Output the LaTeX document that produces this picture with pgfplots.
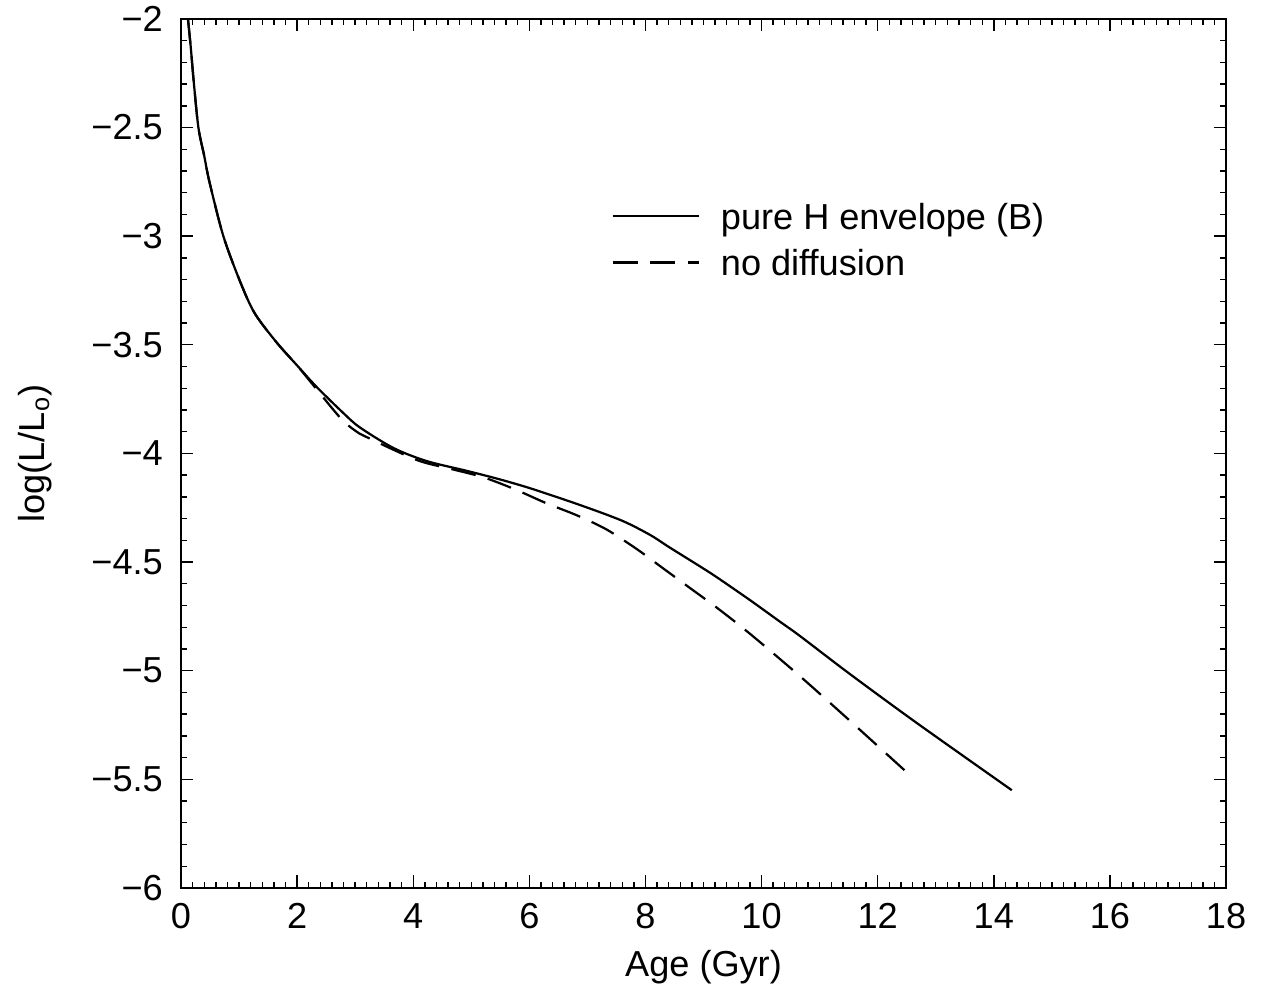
\documentclass[border=0pt]{standalone}
\usepackage{fontspec}
\setmainfont{Liberation Sans}
\usepackage{pgfplots}
\pgfplotsset{compat=1.18}

% Cooling tracks: luminosity against age
\pgfplotstableread{
age   logL
0.12  -2.00
0.17  -2.135
0.22  -2.29
0.30  -2.50
0.40  -2.63
0.49  -2.75
0.73  -3.00
1.02  -3.21
1.27  -3.355
1.65  -3.49
2.00  -3.595
2.34  -3.695
2.80  -3.815
3.08  -3.88
3.66  -3.975
4.23  -4.035
4.92  -4.08
5.50  -4.12
6.07  -4.165
6.90  -4.24
7.60  -4.31
8.08  -4.375
8.40  -4.43
8.94  -4.52
9.23  -4.57
9.80  -4.675
10.32 -4.775
10.66 -4.84
11.52 -5.015
12.67 -5.24
14.31 -5.55
}\pureH

\pgfplotstableread{
age   logL
0.12  -2.00
0.17  -2.135
0.22  -2.29
0.30  -2.50
0.40  -2.63
0.49  -2.75
0.73  -3.00
1.02  -3.21
1.27  -3.355
1.65  -3.49
2.00  -3.595
2.20  -3.66
2.74  -3.835
3.00  -3.895
3.20  -3.925
4.06  -4.03
4.63  -4.07
5.21  -4.11
5.75  -4.165
6.30  -4.23
6.82  -4.285
7.33  -4.35
7.85  -4.44
8.31  -4.53
8.77  -4.62
9.23  -4.71
9.80  -4.83
10.66 -5.025
11.52 -5.23
12.49 -5.465
}\nodiff

\begin{document}
\begin{tikzpicture}
\begin{axis}[
  scale only axis,
  width=375.9pt, height=312.6pt,
  xmin=0, xmax=18, ymin=-6, ymax=-2,
  xtick={0,2,...,18},
  ytick={-6,-5.5,-5,-4.5,-4,-3.5,-3,-2.5,-2},
  yticklabels={−6,−5.5,−5,−4.5,−4,−3.5,−3,−2.5,−2},
  minor x tick num=9,
  minor y tick num=4,
  major tick length=4.5pt,
  minor tick length=2.3pt,
  tick align=inside,
  tick style={black, line width=0.5pt},
  axis line style={line width=0.6pt},
  /pgf/number format/assume math mode=true,
  tick label style={font=\fontsize{13}{15}\selectfont},
  xticklabel style={yshift=-2pt},
  yticklabel style={xshift=-3pt},
  label style={font=\fontsize{13}{15}\selectfont},
  xlabel={Age (Gyr)},
  ylabel={log(L/L\textsubscript{o})},
  xlabel style={yshift=-1pt},
  ylabel style={yshift=7.5pt},
  legend style={draw=none, fill=none, at={(axis cs:7.26,-2.82)}, anchor=north west,
    font=\fontsize{13}{15}\selectfont, row sep=7.2pt,
    nodes={inner sep=0pt, text depth=0pt}},
  legend cell align=left,
  legend image code/.code={\draw[#1] (0pt,0pt) -- (31pt,0pt);},
  every axis legend/.append style={column sep=7.6pt},
]
\addplot[black, line width=0.8pt, smooth] table[x=age, y=logL] {\pureH};
\addlegendentry{pure H envelope (B)}
\addplot[black, line width=0.8pt, smooth, dash pattern=on 9pt off 4.5pt] table[x=age, y=logL] {\nodiff};
\addlegendentry{no diffusion}
\end{axis}
\pgfresetboundingbox
\path (current axis.south west) ++(-65.1pt,-39.2pt) rectangle ([shift={(13.3pt,6.8pt)}]current axis.north east);
\end{tikzpicture}
\end{document}
